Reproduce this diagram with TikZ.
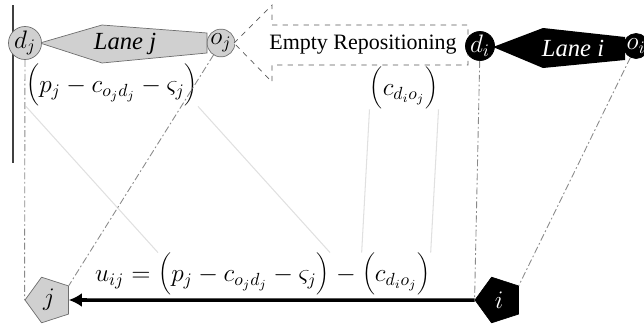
\documentclass[tikz,border=0pt]{standalone}
\usepackage{fontspec}
\setmainfont{Liberation Serif}
\usetikzlibrary{positioning,shapes.geometric,arrows.meta}
\definecolor{lanegray}{HTML}{D0D0D0}
\definecolor{edgegray}{HTML}{6E6E6E}
\definecolor{linkgray}{HTML}{8A8A8A}
\definecolor{faintgray}{HTML}{E0E0E0}
\newcommand{\bigparen}[1]{{\fontsize{18}{20}\selectfont$\biggl($}#1{\fontsize{18}{20}\selectfont$\biggr)$}}
\tikzset{
  endpt/.style={circle,draw=edgegray,fill=lanegray,minimum size=0.5cm,inner sep=0pt,font=\fontsize{14}{14}\selectfont},
  endptdark/.style={endpt,draw=black,fill=black,text=white},
  loadnode/.style={regular polygon,regular polygon sides=5,shape border rotate=90,minimum size=0.96cm,inner sep=0pt,draw=edgegray,fill=lanegray,font=\fontsize{14}{14}\selectfont},
  loadnodedark/.style={loadnode,draw=black,fill=black,text=white},
  tieline/.style={draw=linkgray,line width=0.5pt,dash pattern=on 4pt off 1.5pt on 1pt off 1.5pt},
  faintline/.style={draw=faintgray,line width=0.6pt},
  cost/.style={inner sep=0pt,font=\fontsize{14}{17}\selectfont},
  lanetext/.style={font=\itshape\fontsize{14}{14}\selectfont}
}
\begin{document}
\begin{tikzpicture}[x=0.02cm,y=-0.02cm]
  \useasboundingbox (0,0) rectangle (644,328);
  \draw[black!75,line width=0.8pt] (13,5) -- (13,163);
  \filldraw[fill=lanegray,draw=edgegray] (40,43) -- (102,25) -- (207,33) -- (207,53) -- (102,63) -- cycle;
  \node[lanetext] (lanej) at (125,44) {Lane j};
  \node[endpt] (dj) at (25,43) {$d_j$};
  \node[endpt] (oj) at (221,43) {$o_j$};
  \filldraw[dashed,draw=black!65,fill=white] (234,43) -- (272,5) -- (272,25) -- (468,25) -- (468,65) -- (272,65) -- (272,82) -- cycle;
  \node[inner sep=0pt,font=\fontsize{12.5}{12.5}\selectfont] (empty) at (363,45) {Empty Repositioning};
  \fill[black] (493,47) -- (543,28) -- (625,37) -- (625,60) -- (543,68) -- cycle;
  \node[lanetext,text=white] (lanei) at (573,48) {Lane i};
  \node[endptdark] (di) at (480,46) {$d_i$};
  \node[endptdark] (oi) at (636,46) {$o_i$};
  \node[cost] (topj) at (112,85) {\bigparen{$p_j - c_{o_jd_j} - \varsigma_j$}};
  \node[cost] (topc) at (404,88) {\bigparen{$c_{d_io_j}$}};
  \node[cost] (gj) at (244,274) {\bigparen{$p_j - c_{o_jd_j} - \varsigma_j$}};
  \node[cost,base left=0pt of gj] (uij) {$u_{ij} = {}$};
  \node[cost,base right=0pt of gj] (minus) {${}-{}$};
  \node[cost,base right=0pt of minus] (gc) {\bigparen{$c_{d_io_j}$}};
  \node[loadnode] (j) at (49,300) {$j$};
  \node[loadnodedark] (i) at (499,300) {$i$};
  \draw[faintline] (topj.south west) -- (gj.north west);
  \draw[faintline] (topj.south east) -- (gj.north east);
  \draw[faintline] (topc.south west) -- (gc.north west);
  \draw[faintline] (topc.south east) -- (gc.north east);
  \draw[tieline] (dj) -- (j.west);
  \draw[tieline] (oj) -- (j.36);
  \draw[tieline] (di) -- (i.west);
  \draw[tieline] (oi) -- (i.36);
  \draw[line width=2pt,-{Latex[length=7.5pt,width=8pt]}] (i.west) -- (j.east);
\end{tikzpicture}
\end{document}
